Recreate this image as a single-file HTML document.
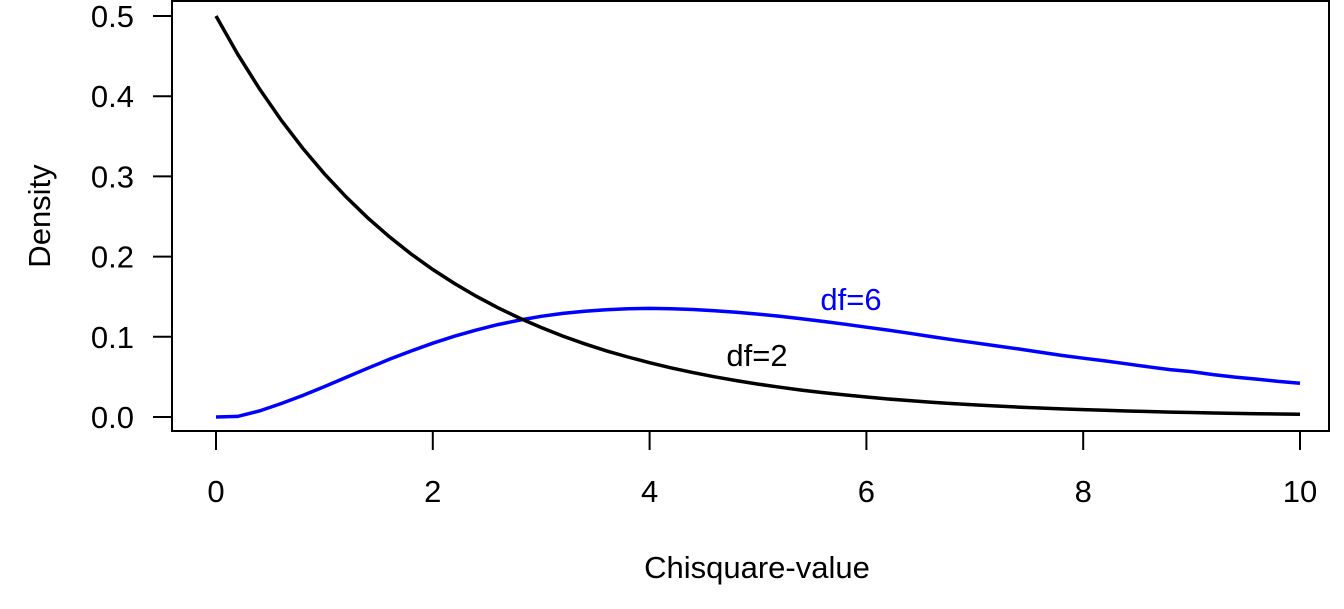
<!DOCTYPE html>
<html><head><meta charset="utf-8"><style>
body{margin:0;background:#fff;}
svg text{font-family:"Liberation Sans",Arial,sans-serif;font-size:31px;}
</style></head><body>
<svg width="1344" height="604" id="chart">
<rect x="172" y="1" width="1157" height="430" fill="none" stroke="#000" stroke-width="2"/>
<g id="axes"></g>
<g id="series"></g>
<text x="851" y="310" fill="#0000ff" text-anchor="middle">df=6</text>
<text x="757" y="366" fill="#000" text-anchor="middle">df=2</text>
<text x="757" y="578" text-anchor="middle">Chisquare-value</text>
<text transform="translate(50,216) rotate(-90)" text-anchor="middle">Density</text>
</svg>
<script>
const xTicks=[0,2,4,6,8,10];
const yTicks=[0.0,0.1,0.2,0.3,0.4,0.5];
const yTickLabels=["0.0","0.1","0.2","0.3","0.4","0.5"];
const xStep=0.2;
const df2=[0.5,0.4524,0.4094,0.3704,0.3352,0.3033,0.2744,0.2483,0.2247,0.2033,0.1839,0.1664,0.1506,0.1363,0.1233,0.1116,0.1009,0.0913,0.0826,0.0748,0.0677,0.0612,0.0554,0.0501,0.0454,0.0410,0.0371,0.0336,0.0304,0.0275,0.0249,0.0225,0.0204,0.0184,0.0167,0.0151,0.0137,0.0124,0.0112,0.0101,0.0092,0.0083,0.0075,0.0068,0.0061,0.0056,0.0050,0.0045,0.0041,0.0037,0.0034];
const df6=[0,0.0008,0.0075,0.0167,0.0268,0.0379,0.0494,0.0608,0.0719,0.0823,0.0920,0.1007,0.1084,0.1152,0.1208,0.1256,0.1292,0.1319,0.1338,0.1350,0.1354,0.1350,0.1341,0.1325,0.1307,0.1283,0.1255,0.1225,0.1192,0.1157,0.1120,0.1083,0.1044,0.1003,0.0963,0.0925,0.0886,0.0849,0.0809,0.0768,0.0733,0.0700,0.0663,0.0626,0.0591,0.0566,0.0529,0.0497,0.0472,0.0444,0.0421];
const NS="http://www.w3.org/2000/svg";
const X=v=>216+v*108.4;
const Y=v=>417-v*802;
function mk(t,a,p){const e=document.createElementNS(NS,t);for(const k in a)e.setAttribute(k,a[k]);p.appendChild(e);return e;}
const ax=document.getElementById('axes');
yTicks.forEach((v,i)=>{
 const t=mk('line',{x1:153,y1:Y(v),x2:172,y2:Y(v),stroke:'#000','stroke-width':2},ax);
 
 
 const tx=mk('text',{x:134,y:Y(v)+11,'text-anchor':'end'},ax);tx.textContent=yTickLabels[i];
 
 
});
xTicks.forEach(v=>{
 const t=mk('line',{x1:X(v),y1:431,x2:X(v),y2:450,stroke:'#000','stroke-width':2},ax);
 
 
 const tx=mk('text',{x:X(v),y:502,'text-anchor':'middle'},ax);tx.textContent=String(v);
 
 
});
const sg=document.getElementById('series');
function line(d,c,n){
 const pts=d.map((v,i)=>X(i*xStep).toFixed(1)+','+Y(v).toFixed(1)).join(' ');
 const p=mk('polyline',{points:pts,fill:'none',stroke:c,'stroke-width':3.5},sg);
 
 
}
line(df6,'#0000ff','df6-curve');
line(df2,'#000','df2-curve');
</script>
</body></html>
